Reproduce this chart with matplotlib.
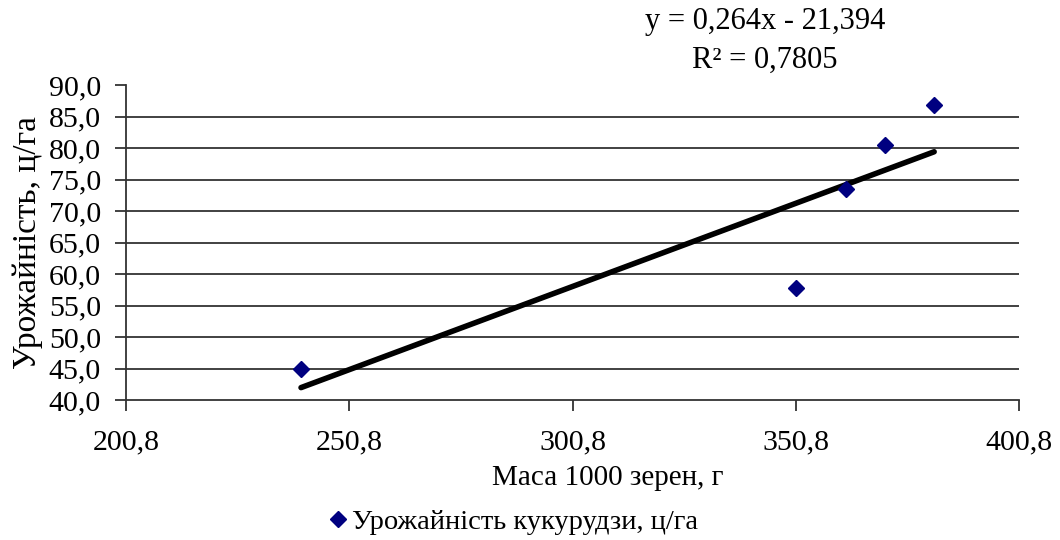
import numpy as np
import matplotlib.pyplot as plt
import matplotlib as mpl
from matplotlib.ticker import FuncFormatter

mpl.rcParams['font.family'] = ['Liberation Serif', 'DejaVu Serif']

# data
mass = [240.0, 350.8, 362.0, 370.7, 381.8]      # маса 1000 зерен, г
yield_ = [44.9, 57.8, 73.5, 80.4, 86.9]          # урожайність, ц/га
slope, intercept = 0.264, -21.394
x_ticks = [200.8, 250.8, 300.8, 350.8, 400.8]
y_ticks = [40, 45, 50, 55, 60, 65, 70, 75, 80, 85, 90]

fig = plt.figure(figsize=(10.6, 5.4), dpi=100)
ax = fig.add_axes([126/1060, 1 - 400/540, (1019-126)/1060, (400-85)/540])

# gridlines (no line at top)
for yv in y_ticks[1:-1]:
    ax.axhline(yv, color='#333333', lw=1.3, zorder=1)

xs = np.array([min(mass), max(mass)])
ax.plot(xs, slope*xs + intercept, color='black', lw=4.0, solid_capstyle='round', zorder=2)
ax.plot(mass, yield_, linestyle='none', marker='D', color='#000080', markersize=8.5,
        zorder=3, label='Урожайність кукурудзи, ц/га')

ax.set_xlim(200.8, 400.8)
ax.set_ylim(40, 90)
ax.set_xticks(x_ticks)
ax.set_yticks(y_ticks)
fmt = FuncFormatter(lambda v, p: f"{v:.1f}".replace('.', ','))
ax.xaxis.set_major_formatter(fmt)
ax.yaxis.set_major_formatter(fmt)
ax.tick_params(labelsize=21.5, length=8, width=1.3, color='#333333')
ax.tick_params(axis='y', pad=10)
ax.tick_params(axis='x', pad=13)
for s in ['top', 'right']:
    ax.spines[s].set_visible(False)
for s in ['left', 'bottom']:
    ax.spines[s].set_linewidth(1.3)
    ax.spines[s].set_color('#333333')

ax.set_xlabel('Маса 1000 зерен, г', fontsize=21, labelpad=7, x=0.54)
ax.set_ylabel('Урожайність, ц/га', fontsize=24, labelpad=4)

fig.text(765/1060, 1 - 22/540, 'y = 0,264x - 21,394', fontsize=22, ha='center', va='center')
fig.text(765/1060, 1 - 60/540, 'R² = 0,7805', fontsize=22, ha='center', va='center')

fig.legend(loc='center', bbox_to_anchor=(514/1060, 1 - 522/540), frameon=False,
           fontsize=20.5, handlelength=0.6, handletextpad=0.2, markerscale=0.9)

plt.savefig('out.png', dpi=100)
